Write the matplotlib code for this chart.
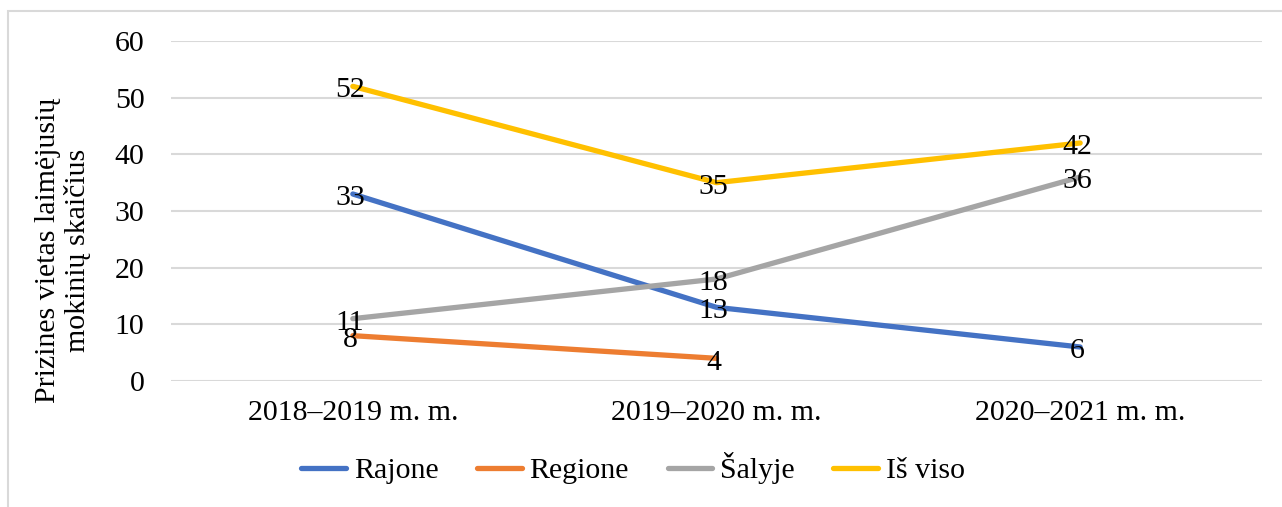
import matplotlib.pyplot as plt
from matplotlib.patches import Rectangle

categories = ["2018–2019 m. m.", "2019–2020 m. m.", "2020–2021 m. m."]
rajone = [33, 13, 6]
regione = [8, 4]
salyje = [11, 18, 36]
is_viso = [52, 35, 42]

series = [("Rajone", rajone, "#4472C4"),
          ("Regione", regione, "#ED7D31"),
          ("Šalyje", salyje, "#A5A5A5"),
          ("Iš viso", is_viso, "#FFC000")]

plt.rcParams['font.family'] = ['Liberation Serif', 'DejaVu Serif']
fs = 21.5

fig = plt.figure(figsize=(12.82, 5.07), dpi=100)
ax = fig.add_axes([171 / 1282, 1 - 381 / 507, 1091 / 1282, 340 / 507])

for name, vals, color in series:
    x = list(range(len(vals)))
    ax.plot(x, vals, color=color, linewidth=3.8, solid_capstyle='round', label=name)
    for xi, v in zip(x, vals):
        ax.annotate(str(v), (xi, v), xytext=(-2, -3), textcoords='offset points',
                    ha='center', va='center', fontsize=fs, color='black')

ax.set_xlim(-0.5, 2.5)
ax.set_ylim(0, 60)
ax.set_yticks(range(0, 61, 10))
ax.set_xticks(range(3))
ax.set_xticklabels(categories)
ax.tick_params(length=0, labelsize=fs, pad=14)
ax.tick_params(axis='y', pad=19)
ax.grid(axis='y', color='#D9D9D9', linewidth=1.5)
ax.set_axisbelow(True)
for s in ax.spines.values():
    s.set_visible(False)

fig.text(63 / 1282, 1 - 250 / 507, "Prizines vietas laimėjusių\nmokinių skaičius", rotation=90,
         ha='center', va='center', multialignment='center', fontsize=fs, linespacing=1.1)

fig.legend(loc='center', bbox_to_anchor=(633 / 1282, 1 - 468 / 507), ncol=4, frameon=False,
           fontsize=fs, handlelength=1.5, handletextpad=0.25, columnspacing=1.3)

fig.patches.append(Rectangle((8 / 1282, -0.1), 1.2, 1 - 11 / 507 + 0.1, transform=fig.transFigure,
                             fill=False, edgecolor='#D9D9D9', linewidth=1.5))

fig.savefig("out.png", dpi=100)
